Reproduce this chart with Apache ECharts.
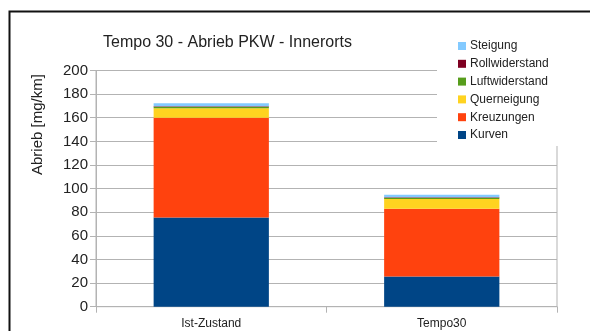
<!DOCTYPE html>
<html>
<head>
<meta charset="utf-8">
<script src="https://cdn.jsdelivr.net/npm/echarts@6/dist/echarts.min.js"></script>
<style>
  html, body { margin: 0; padding: 0; background: #fff; }
  #chart { width: 590px; height: 331px; }
</style>
</head>
<body>
<div id="chart"></div>
<script>
// Abrieb je Ursache, gestapelt (mg/km)
const categories = ['Ist-Zustand', 'Tempo30'];
const kurven = [75.5, 25.5];
const kreuzungen = [84.5, 57.5];
const querneigung = [8, 8.2];
const luftwiderstand = [1.2, 1];
const rollwiderstand = [0.6, 0.5];
const steigung = [2.5, 2];
const yTicks = [0, 20, 40, 60, 80, 100, 120, 140, 160, 180, 200];

const FONT = '"Liberation Sans", Arial, sans-serif';
const GRID = '#b3b3b3';

const seriesDefs = [
  { name: 'Kurven', data: kurven, color: '#004586' },
  { name: 'Kreuzungen', data: kreuzungen, color: '#ff420e' },
  { name: 'Querneigung', data: querneigung, color: '#ffd320' },
  { name: 'Luftwiderstand', data: luftwiderstand, color: '#579d1c' },
  { name: 'Rollwiderstand', data: rollwiderstand, color: '#7e0021' },
  { name: 'Steigung', data: steigung, color: '#83caff' }
];

const chart = echarts.init(document.getElementById('chart'), null, { renderer: 'canvas' });

chart.setOption({
  animation: false,
  backgroundColor: '#fff',
  textStyle: { fontFamily: FONT },
  title: {
    text: 'Tempo 30 - Abrieb PKW - Innerorts',
    left: 103,
    top: 35,
    padding: 0,
    textStyle: { fontFamily: FONT, fontSize: 16, fontWeight: 'normal', color: '#222' }
  },
  legend: {
    orient: 'vertical',
    left: 437,
    top: 31,
    padding: [9, 10, 5, 21],
    backgroundColor: '#fff',
    itemWidth: 8,
    itemHeight: 8,
    itemGap: 5.8,
    icon: 'rect',
    data: ['Steigung', 'Rollwiderstand', 'Luftwiderstand', 'Querneigung', 'Kreuzungen', 'Kurven'],
    textStyle: { fontFamily: FONT, fontSize: 12, color: '#222', padding: [0, 0, 0, -1] }
  },
  grid: {
    left: 96,
    right: 33,
    top: 70.5,
    bottom: 24.3,
    show: true,
    borderColor: GRID,
    borderWidth: 1,
    backgroundColor: 'transparent'
  },
  xAxis: {
    type: 'category',
    data: categories,
    axisLine: { lineStyle: { color: GRID } },
    axisTick: { show: true, length: 6, lineStyle: { color: GRID } },
    axisLabel: { fontFamily: FONT, fontSize: 12, color: '#222', margin: 11 }
  },
  yAxis: {
    type: 'value',
    min: yTicks[0],
    max: yTicks[yTicks.length - 1],
    interval: yTicks[1] - yTicks[0],
    name: 'Abrieb [mg/km]',
    nameLocation: 'middle',
    nameGap: 51,
    nameTextStyle: { fontFamily: FONT, fontSize: 15, color: '#222', padding: [0, 0, 0, 128] },
    axisLine: { show: true, lineStyle: { color: GRID } },
    axisTick: { show: true, length: 6, lineStyle: { color: GRID } },
    axisLabel: { fontFamily: FONT, fontSize: 15, color: '#222', margin: 8 },
    splitLine: { lineStyle: { color: GRID } }
  },
  graphic: [
    {
      type: 'rect',
      z: 100,
      shape: { x: 9.5, y: 11.5, width: 620, height: 400 },
      style: { fill: 'none', stroke: '#111', lineWidth: 2 },
      silent: true
    }
  ],
  series: seriesDefs.map(s => ({
    name: s.name,
    type: 'bar',
    stack: 'abrieb',
    barWidth: '50%',
    data: s.data,
    itemStyle: { color: s.color },
    emphasis: { disabled: true }
  }))
});
</script>
</body>
</html>
